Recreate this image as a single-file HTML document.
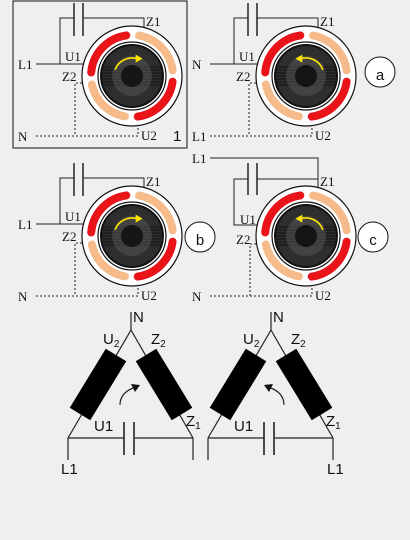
<!DOCTYPE html>
<html><head><meta charset="utf-8">
<style>
html,body{margin:0;padding:0;background:#efefef;}
svg{display:block;}
.lab{font-family:"Liberation Serif",serif;font-size:13px;fill:#111;}
.sans{font-family:"Liberation Sans",sans-serif;font-size:15px;fill:#111;}
</style></head>
<body>
<svg id="diag" width="410" height="540" viewBox="0 0 410 540" xmlns="http://www.w3.org/2000/svg">
<rect width="410" height="540" fill="#efefef"/>
<rect x="13" y="1" width="174" height="147" fill="none" stroke="#111" stroke-width="1"/>
<g id="motors"></g>
<g><circle cx="380" cy="72" r="15" fill="#fff" stroke="#111"/><text class="sans" x="380" y="80" font-size="22" text-anchor="middle">a</text></g>
<g><circle cx="200" cy="237" r="15" fill="#fff" stroke="#111"/><text class="sans" x="200" y="245" font-size="22" text-anchor="middle">b</text></g>
<g><circle cx="373" cy="237" r="15" fill="#fff" stroke="#111"/><text class="sans" x="373" y="245" font-size="22" text-anchor="middle">c</text></g>
<text class="sans" x="173" y="141" font-size="18">1</text>
<g id="deltas"></g>
</svg>
<script>
function pt(r,a){a=a*Math.PI/180;return [r*Math.cos(a),r*Math.sin(a)];}
function arc(r,a1,a2){var p=pt(r,a1),q=pt(r,a2);var large=Math.abs(a2-a1)>180?1:0;var sw=a2>a1?1:0;return 'M'+p[0].toFixed(1)+' '+p[1].toFixed(1)+' A'+r+' '+r+' 0 '+large+' '+sw+' '+q[0].toFixed(1)+' '+q[1].toFixed(1);}
function motor(name,cx,cy,cw){
  var s='<g transform="translate('+cx+','+cy+')">';
  s+='<circle r="50" fill="#fff" stroke="#111" stroke-width="1.2"/>';
  s+='<path d="'+arc(41,185,262)+'" stroke="#e8141a" stroke-width="8" fill="none" stroke-linecap="round"/>';
  s+='<path d="'+arc(41,280,352)+'" stroke="#f6bb8a" stroke-width="8" fill="none" stroke-linecap="round"/>';
  s+='<path d="'+arc(41,8,82)+'" stroke="#e8141a" stroke-width="8" fill="none" stroke-linecap="round"/>';
  s+='<path d="'+arc(41,100,168)+'" stroke="#f6bb8a" stroke-width="8" fill="none" stroke-linecap="round"/>';
  s+='<circle r="34" fill="#fff" stroke="#111" stroke-width="1.2"/>';
  s+='<circle r="31" fill="#2e2e2e" stroke="#111" stroke-width="2"/>';
  for(var i=-3;i<=3;i++){s+='<line x1="-30" x2="30" y1="'+(i*3)+'" y2="'+(i*3)+'" stroke="#111" stroke-width="1"/>';}
  s+='<circle r="20" fill="#555" opacity="0.55"/>';
  s+='<circle r="11" fill="#151515"/>';
  var a1=cw?200:340,a2=cw?285:255;
  var e=pt(18,a2);
  s+='<path d="'+arc(18,a1,a2)+'" stroke="#ffe200" stroke-width="1.6" fill="none"/>';
  var dx=cw?1:-1;
  s+='<polygon points="'+(e[0]+dx*6)+','+e[1]+' '+(e[0]-dx*1)+','+(e[1]-4)+' '+(e[0]-dx*1)+','+(e[1]+4)+'" fill="#ffe200"/>';
  s+='</g>';return s;
}
function wiringTop(ox,oy,left,bottom){
  var s='<g transform="translate('+ox+','+oy+')" fill="none" stroke="#222" stroke-width="1">';
  s+='<line x1="74" y1="3" x2="74" y2="36" stroke-width="1.5"/><line x1="83" y1="3" x2="83" y2="36" stroke-width="1.5"/>';
  s+='<polyline points="74,18 60,18 60,64"/><polyline points="83,18 144,18 144,32"/>';
  s+='<line x1="36" y1="64" x2="94" y2="64"/>';
  s+='<polyline points="94,83 75,83 75,136" stroke-dasharray="2,2"/>';
  s+='<polyline points="36,136 138,136 138,118" stroke-dasharray="2,2"/>';
  s+='</g>';
  s+='<g transform="translate('+ox+','+oy+')">';
  s+='<text class="lab" x="18" y="69">'+left+'</text>';
  s+='<text class="lab" x="18" y="141">'+bottom+'</text>';
  s+='<text class="lab" x="146" y="26">Z1</text><text class="lab" x="65" y="61">U1</text>';
  s+='<text class="lab" x="62" y="81">Z2</text><text class="lab" x="141" y="140">U2</text></g>';
  return s;
}
function wiringC(ox,oy){
  var s='<g transform="translate('+ox+','+oy+')" fill="none" stroke="#222" stroke-width="1">';
  s+='<line x1="74" y1="3" x2="74" y2="35" stroke-width="1.5"/><line x1="83" y1="3" x2="83" y2="35" stroke-width="1.5"/>';
  s+='<polyline points="36,-2 144,-2 144,32"/>';
  s+='<polyline points="74,19 60,19 60,65 94,65"/><line x1="83" y1="19" x2="144" y2="19"/>';
  s+='<polyline points="94,84 76,84 76,136" stroke-dasharray="2,2"/>';
  s+='<polyline points="36,136 138,136 138,118" stroke-dasharray="2,2"/>';
  s+='</g><g transform="translate('+ox+','+oy+')">';
  s+='<text class="lab" x="18" y="3">L1</text><text class="lab" x="18" y="141">N</text>';
  s+='<text class="lab" x="146" y="26">Z1</text><text class="lab" x="66" y="64">U1</text>';
  s+='<text class="lab" x="62" y="84">Z2</text><text class="lab" x="141" y="140">U2</text></g>';
  return s;
}
var m='';
m+=wiringTop(0,0,'L1','N')+motor('motor-1',132,76,true);
m+=wiringTop(174,0,'N','L1')+motor('motor-a',306,76,false);
m+=wiringTop(0,160,'L1','N')+motor('motor-b',132,236,true);
m+=wiringC(174,160)+motor('motor-c',306,236,false);
document.getElementById('motors').innerHTML=m;

function delta(name,ox,cw,rightL1){
  var s='<g transform="translate('+ox+',0)">';
  s+='<g fill="none" stroke="#222" stroke-width="1.2">';
  s+='<line x1="131" y1="312" x2="131" y2="330"/>';
  s+='<line x1="131" y1="330" x2="68" y2="438"/><line x1="131" y1="330" x2="193" y2="438"/>';
  s+='<line x1="68" y1="438" x2="124" y2="438"/><line x1="135" y1="438" x2="193" y2="438"/>';
  s+='<line x1="124" y1="422" x2="124" y2="455" stroke-width="1.6"/><line x1="134" y1="422" x2="134" y2="455" stroke-width="1.6"/>';
  s+='<line x1="68" y1="438" x2="68" y2="460"/><line x1="193" y1="438" x2="193" y2="460"/>';
  if(cw) s+='<path d="M120 405 Q120 392 136 387" />'; else s+='<path d="M144 405 Q144 392 128 387"/>';
  s+='</g>';
  s+='<line x1="116" y1="355" x2="80" y2="414" stroke="#000" stroke-width="24"/>';
  s+='<line x1="146" y1="355" x2="182" y2="414" stroke="#000" stroke-width="24"/>';
  if(cw) s+='<polygon points="140,385 131,384 135,392" fill="#111"/>'; else s+='<polygon points="124,385 133,384 129,392" fill="#111"/>';
  s+='<text class="sans" x="133" y="322">N</text>';
  s+='<text class="sans" x="103" y="344">U<tspan font-size="10" dy="3">2</tspan></text>';
  s+='<text class="sans" x="151" y="344">Z<tspan font-size="10" dy="3">2</tspan></text>';
  s+='<text class="sans" x="94" y="431">U1</text>';
  s+='<text class="sans" x="186" y="426">Z<tspan font-size="10" dy="3">1</tspan></text>';
  if(rightL1) s+='<text class="sans" x="187" y="474">L1</text>'; else s+='<text class="sans" x="61" y="474">L1</text>';
  s+='</g>';return s;
}
document.getElementById('deltas').innerHTML=delta('delta-diagram-left',0,true,false)+delta('delta-diagram-right',140,false,true);
</script>
</body></html>
